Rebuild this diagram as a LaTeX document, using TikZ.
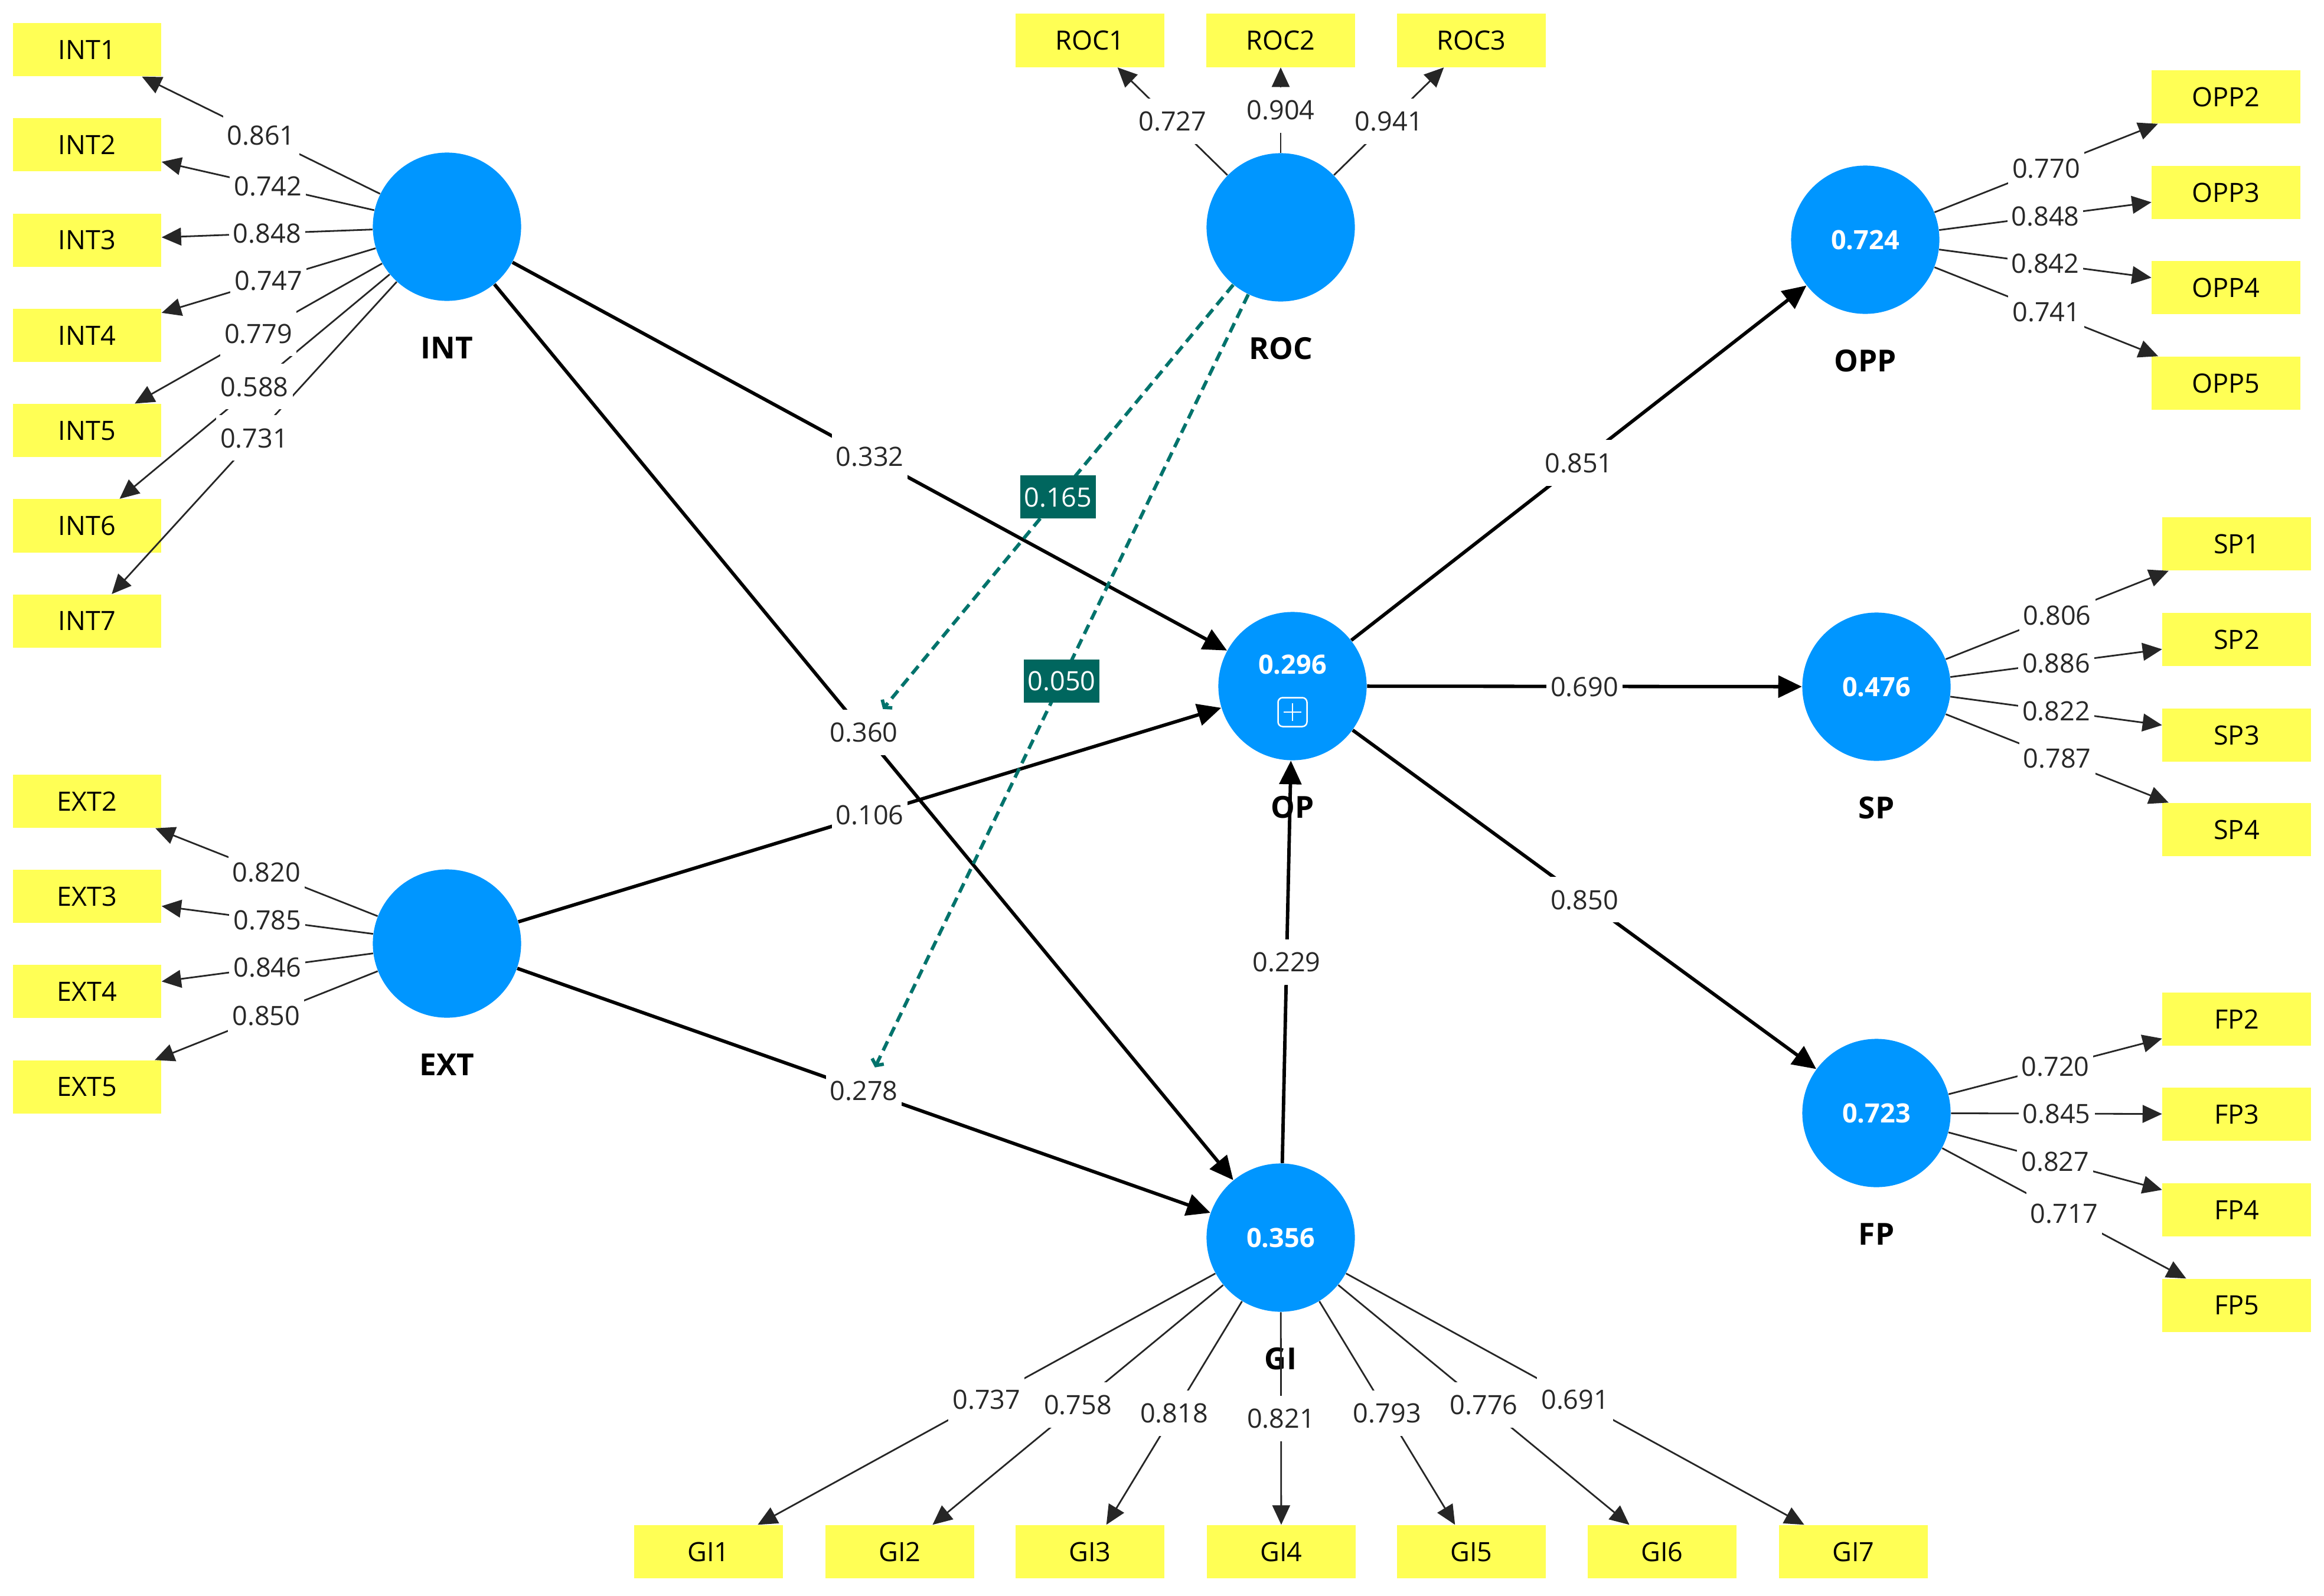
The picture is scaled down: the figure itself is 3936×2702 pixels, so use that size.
\documentclass[tikz,border=0pt]{standalone}
\usepackage{fontspec}
\setmainfont{Open Sans}
\usetikzlibrary{arrows.meta}
\definecolor{lvblue}{RGB}{0,150,255}
\definecolor{indyel}{RGB}{255,255,85}
\definecolor{modteal}{RGB}{0,102,94}
\definecolor{modline}{RGB}{0,115,108}
\definecolor{numgray}{RGB}{40,40,40}
\begin{document}
\begin{tikzpicture}[x=0.01cm,y=-0.01cm,
  lv/.style={circle, fill=lvblue, minimum size=2.51cm, inner sep=0pt, text=white,
    font=\fontsize{12.8}{15}\selectfont\bfseries},
  ind/.style={rectangle, fill=indyel, minimum width=2.51cm, minimum height=0.9cm, inner sep=0pt,
    font=\fontsize{12.8}{15}\selectfont},
  lvname/.style={font=\fontsize{14.6}{17}\selectfont\bfseries},
  lbl/.style={fill=white, inner xsep=0.07cm, inner ysep=0.22cm, text height=0.33cm, text depth=0pt,
    font=\fontsize{12.8}{15}\selectfont, text=numgray},
  modlbl/.style={fill=modteal, text=white, inner xsep=0.07cm, inner ysep=0.2cm, text height=0.33cm,
    text depth=0pt, font=\fontsize{12.8}{15}\selectfont},
  struct/.style={line width=0.058cm, -{Triangle[length=0.4cm,width=0.37cm]}},
  load/.style={line width=0.028cm, draw=black!85, -{Triangle[length=0.33cm,width=0.3cm]}},
  moder/.style={draw=modline, line width=0.058cm, dash pattern=on 0.17cm off 0.1cm,
    -{Straight Barb[length=0.08cm,width=0.22cm]}}
]
\useasboundingbox[fill=white] (0,0) rectangle (3936,2702);

% latent variables
\node[lv] (INT) at (757,384) {};
\node[lv] (ROC) at (2169,385) {};
\node[lv] (OP)  at (2189,1162) {};
\node[lv] (EXT) at (757,1598) {};
\node[lv] (GI)  at (2169,2096) {0.356};
\node[lv] (OPP) at (3159,406) {0.724};
\node[lv] (SP)  at (3178,1163) {0.476};
\node[lv] (FP)  at (3178,1885) {0.723};

\node[lv, fill=none, minimum size=0pt] (opr2) at (2189,1125) {0.296};
\node[draw=white, line width=0.025cm, rounded corners=0.08cm, minimum size=0.49cm, inner sep=0pt] (opplus) at (2189,1206) {};
\draw[white, line width=0.025cm]
  ([xshift=-0.15cm]opplus.center) -- ([xshift=0.15cm]opplus.center)
  ([yshift=-0.15cm]opplus.center) -- ([yshift=0.15cm]opplus.center);

% latent names
\node[lvname] (nINT) at (757,589) {INT};
\node[lvname] (nROC) at (2169,590) {ROC};
\node[lvname] (nOP)  at (2189,1367) {OP};
\node[lvname] (nEXT) at (757,1803) {EXT};
\node[lvname] (nGI)  at (2169,2301) {GI};
\node[lvname] (nOPP) at (3159,611) {OPP};
\node[lvname] (nSP)  at (3178,1368) {SP};
\node[lvname] (nFP)  at (3178,2090) {FP};

% indicators
\foreach \i/\y in {1/84,2/245.3,3/406.6,4/567.9,5/729.2,6/890.5,7/1051.8}
  \node[ind] (INT\i) at (147.5,\y) {INT\i};
\foreach \i/\y in {2/1357,3/1518,4/1679,5/1841}
  \node[ind] (EXT\i) at (147.5,\y) {EXT\i};
\foreach \i/\x in {1/1846,2/2169,3/2492}
  \node[ind] (ROC\i) at (\x,68.5) {ROC\i};
\foreach \i/\y in {2/164,3/326,4/487,5/649}
  \node[ind] (OPP\i) at (3770,\y) {OPP\i};
\foreach \i/\y in {1/921,2/1083,3/1245,4/1405}
  \node[ind] (SP\i) at (3788,\y) {SP\i};
\foreach \i/\y in {2/1726,3/1887,4/2049,5/2211}
  \node[ind] (FP\i) at (3788,\y) {FP\i};
\foreach \i/\x in {1/1200,2/1524,3/1846,4/2170,5/2492,6/2815,7/3139}
  \node[ind] (GI\i) at (\x,2628) {GI\i};

% loading lines
\foreach \i in {1,...,7} \draw[load] (INT) -- (INT\i) coordinate[midway] (mINT\i);
\foreach \i in {2,...,5} \draw[load] (EXT) -- (EXT\i) coordinate[midway] (mEXT\i);
\foreach \i in {1,2,3} \draw[load] (ROC) -- (ROC\i) coordinate[midway] (mROC\i);
\foreach \i in {2,...,5} \draw[load] (OPP) -- (OPP\i) coordinate[midway] (mOPP\i);
\foreach \i in {1,...,4} \draw[load] (SP) -- (SP\i) coordinate[midway] (mSP\i);
\foreach \i in {2,...,5} \draw[load] (FP) -- (FP\i) coordinate[midway] (mFP\i);
\foreach \i in {1,...,7} \draw[load] (GI) -- (GI\i) coordinate[midway] (mGI\i);

% structural paths
\draw[struct] (INT) -- (OP)  coordinate[midway] (pIO);
\draw[struct] (INT) -- (GI)  coordinate[midway] (pIG);
\draw[struct] (EXT) -- (OP)  coordinate[midway] (pEO);
\draw[struct] (EXT) -- (GI)  coordinate[midway] (pEG);
\draw[struct] (GI)  -- (OP)  coordinate[midway] (pGO);
\draw[struct] (OP)  -- (OPP) coordinate[midway] (pOO);
\draw[struct] (OP)  -- (SP)  coordinate[midway] (pOS);
\draw[struct] (OP)  -- (FP)  coordinate[midway] (pOF);

% loading labels
\foreach \i/\v in {1/0.861,2/0.742,3/0.848,4/0.747,5/0.779,6/0.588,7/0.731}
  \node[lbl] (lINT\i) at (mINT\i) {\v};
\foreach \i/\v in {2/0.820,3/0.785,4/0.846,5/0.850}
  \node[lbl] (lEXT\i) at (mEXT\i) {\v};
\foreach \i/\v in {1/0.727,2/0.904,3/0.941}
  \node[lbl] (lROC\i) at (mROC\i) {\v};
\foreach \i/\v in {2/0.770,3/0.848,4/0.842,5/0.741}
  \node[lbl] (lOPP\i) at (mOPP\i) {\v};
\foreach \i/\v in {1/0.806,2/0.886,3/0.822,4/0.787}
  \node[lbl] (lSP\i) at (mSP\i) {\v};
\foreach \i/\v in {2/0.720,3/0.845,4/0.827,5/0.717}
  \node[lbl] (lFP\i) at (mFP\i) {\v};
\foreach \i/\v in {1/0.737,2/0.758,3/0.818,4/0.821,5/0.793,6/0.776,7/0.691}
  \node[lbl] (lGI\i) at (mGI\i) {\v};

% path coefficient labels
\node[lbl] (l332) at (pIO) {0.332};
\node[lbl] (l360) at (pIG) {0.360};
\node[lbl] (l106) at (pEO) {0.106};
\node[lbl] (l278) at (pEG) {0.278};
\node[lbl] (l229) at (pGO) {0.229};
\node[lbl] (l851) at (pOO) {0.851};
\node[lbl] (l690) at (pOS) {0.690};
\node[lbl] (l850) at (pOF) {0.850};

% moderating effects
\draw[moder] (ROC) -- (l360) coordinate[midway] (mm1);
\draw[moder] (ROC) -- (l278) coordinate[midway] (mm2);
\node[modlbl] (m165) at (mm1) {0.165};
\node[modlbl] (m050) at (mm2) {0.050};
\end{tikzpicture}
\end{document}
